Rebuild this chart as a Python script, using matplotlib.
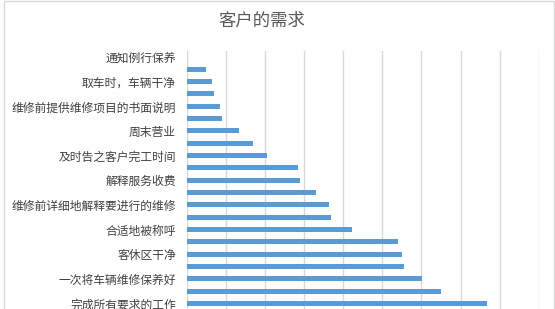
import matplotlib.pyplot as plt
from matplotlib.patches import Rectangle

plt.rcParams['font.family'] = ['Noto Sans CJK SC', 'DejaVu Sans']

# categories from top to bottom; Excel shows only every other label
labels = ['通知例行保养', '取车时，车辆干净', '维修前提供维修项目的书面说明', '周末营业',
          '及时告之客户完工时间', '解释服务收费', '维修前详细地解释要进行的维修',
          '合适地被称呼', '客休区干净', '一次将车辆维修保养好', '完成所有要求的工作']
values = [0.0, 0.48, 0.64, 0.69, 0.84, 0.89, 1.33, 1.69, 2.05, 2.84, 2.90,
          3.30, 3.64, 3.69, 4.21, 5.41, 5.51, 5.56, 6.01, 6.51, 7.67]

W, H = 555, 309
fig = plt.figure(figsize=(W / 100, H / 100), dpi=100)

# outer chart frame (cut off at bottom)
fig.patches.append(Rectangle((4 / W, -0.1), 550 / W, 1.1 - 1.5 / H,
                             transform=fig.transFigure, fill=False,
                             edgecolor='#d9d9d9', linewidth=1))

top = 50.8
ax = fig.add_axes([187 / W, 0, (538.7 - 187) / W, (H - top) / H])

pos = list(range(len(values)))
ax.barh(pos, values, height=0.4, color='#5b9bd5', zorder=3)

ax.set_ylim((H - top) / 12.33 - 0.5, -0.5)
ax.set_xlim(0, 9)
ax.set_xticks(range(0, 10))
ax.set_xticklabels([])
ax.set_yticks(pos[::2])
ax.set_yticklabels(labels, fontsize=8.5, color='#404040')
ax.tick_params(axis='y', length=0, pad=8)
ax.tick_params(axis='x', length=0)
ax.grid(axis='x', color='#d9d9d9', linewidth=1, zorder=0)
for s in ['top', 'right', 'bottom']:
    ax.spines[s].set_visible(False)
ax.spines['left'].set_color('#d9d9d9')

fig.text(261.7 / W, 1 - 20.7 / H, '客户的需求', ha='center', va='center',
         fontsize=12.5, color='#595959')

fig.savefig('out.png', dpi=100)
